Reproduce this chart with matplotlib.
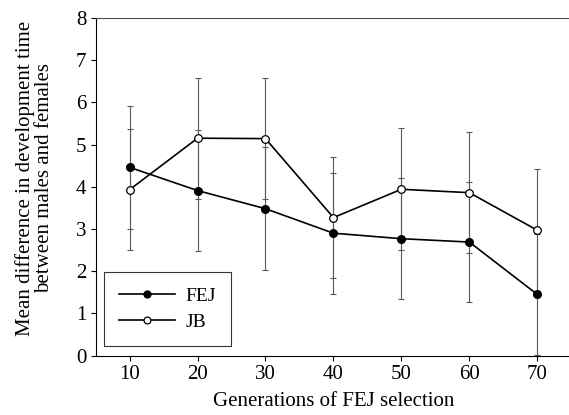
import numpy as np
import matplotlib.pyplot as plt

plt.rcParams['font.family'] = ['Liberation Serif', 'DejaVu Serif']

generations = [10, 20, 30, 40, 50, 60, 70]
fej_mean = [4.46, 3.91, 3.48, 2.90, 2.77, 2.69, 1.45]
fej_err = [1.45, 1.43, 1.45, 1.43, 1.43, 1.43, 1.43]
jb_mean = [3.93, 5.15, 5.14, 3.27, 3.94, 3.86, 2.97]
jb_err = [1.43, 1.43, 1.44, 1.44, 1.44, 1.43, 1.44]

fig = plt.figure(figsize=(5.69, 4.15), dpi=100)
ax = fig.add_axes([0.168, 0.143, 0.836, 0.814])

ax.errorbar(generations, fej_mean, yerr=fej_err, fmt='none', ecolor='0.35',
            elinewidth=0.8, capsize=2.2, capthick=0.8, zorder=1)
ax.errorbar(generations, jb_mean, yerr=jb_err, fmt='none', ecolor='0.35',
            elinewidth=0.8, capsize=2.2, capthick=0.8, zorder=1)

ax.plot(generations, fej_mean, '-o', color='black', lw=1.2, ms=5.5,
        mfc='black', mec='black', label='FEJ', zorder=3)
ax.plot(generations, jb_mean, '-o', color='black', lw=1.2, ms=5.5,
        mfc='white', mec='black', mew=0.9, label='JB', zorder=3)

ax.set_xlim(5, 75)
ax.set_ylim(0, 8)
ax.set_xticks(generations)
ax.set_yticks(range(0, 9))
ax.tick_params(direction='out', length=3.5, width=0.8, labelsize=15, pad=3)

ax.spines['right'].set_visible(False)
ax.spines['top'].set_color('0.3')
ax.spines['top'].set_linewidth(0.8)
ax.spines['left'].set_linewidth(0.8)
ax.spines['bottom'].set_linewidth(0.8)

ax.set_xlabel('Generations of FEJ selection', fontsize=15, labelpad=6)
ax.set_ylabel('Mean difference in development time\nbetween males and females',
              fontsize=15, linespacing=1.0)
ax.yaxis.set_label_coords(-0.088, 0.526)

leg = ax.legend(loc='lower left', bbox_to_anchor=(0.018, 0.03), fontsize=14,
                frameon=True, fancybox=False, edgecolor='black',
                handlelength=2.9, borderpad=0.75, labelspacing=0.45,
                handletextpad=0.55, borderaxespad=0, markerscale=0.9)
leg.get_frame().set_linewidth(0.8)

fig.savefig('out.png', dpi=100)
